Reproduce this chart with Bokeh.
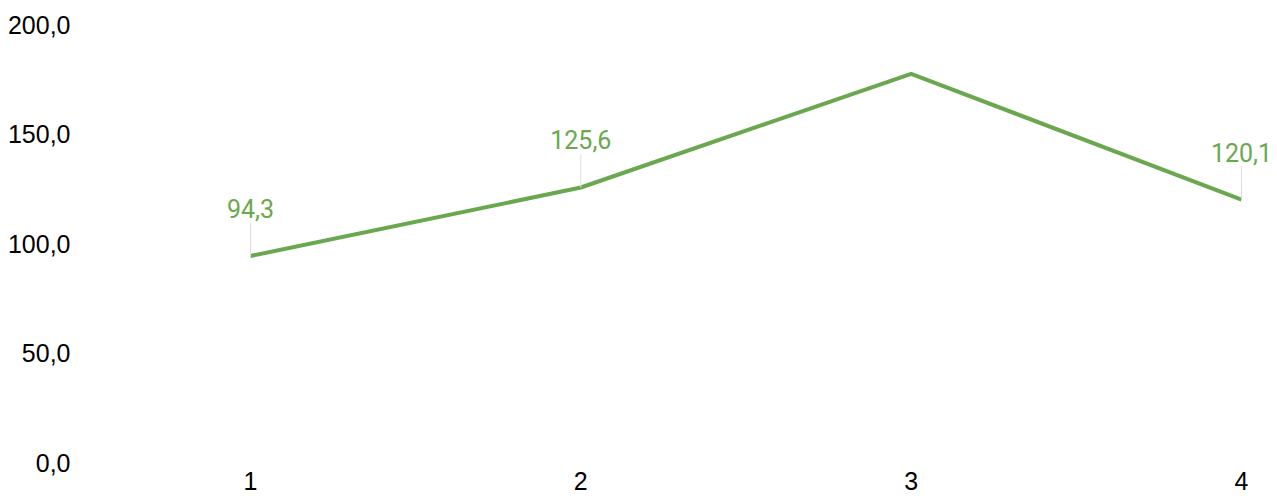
from bokeh.plotting import figure
from bokeh.models import ColumnDataSource, FixedTicker, LabelSet, Range1d
from bokeh.core.properties import value
from bokeh.embed import file_html
from bokeh.resources import INLINE

# ---- data ----
categories = [1, 2, 3, 4]
values = [94.3, 125.6, 177.5, 120.1]
show_label = [True, True, False, True]
x_tick_labels = ["1", "2", "3", "4"]
y_ticks = [0, 50, 100, 150, 200]
y_tick_labels = ["0,0", "50,0", "100,0", "150,0", "200,0"]

LINE_COLOR = "#6aa84f"
LEADER_COLOR = "#dddddd"
PX_PER_UNIT = 2.185
LEADER_PX = 33

p = figure(width=1276, height=500, output_backend="svg", toolbar_location=None,
           x_range=Range1d(0.5096, 4.106), y_range=Range1d(0, 211.0),
           min_border_left=88, min_border_right=0, min_border_top=0, min_border_bottom=38)
p.outline_line_color = None
p.grid.visible = False

for ax in (p.xaxis, p.yaxis):
    ax.axis_line_color = None
    ax.major_tick_line_color = None
    ax.minor_tick_line_color = None
    ax.major_tick_out = 0
    ax.major_tick_in = 0
    ax.major_label_text_font = "Liberation Sans"
    ax.major_label_text_font_size = "25px"
    ax.major_label_text_color = "#000000"

p.xaxis.ticker = FixedTicker(ticks=categories)
p.xaxis.major_label_overrides = {c: t for c, t in zip(categories, x_tick_labels)}
p.xaxis.major_label_standoff = 9
p.yaxis.ticker = FixedTicker(ticks=y_ticks)
p.yaxis.major_label_overrides = {t: s for t, s in zip(y_ticks, y_tick_labels)}
p.yaxis.major_label_standoff = 18

p.line(categories, values, line_color=LINE_COLOR, line_width=4)

lx = [c for c, s in zip(categories, show_label) if s]
ly = [v for v, s in zip(values, show_label) if s]
lt = [f"{v:.1f}".replace(".", ",") for v in ly]
ly1 = [v + LEADER_PX / PX_PER_UNIT for v in ly]
src = ColumnDataSource(dict(x=lx, y=ly, y1=ly1, t=lt))

p.segment(x0="x", y0="y", x1="x", y1="y1", source=src, line_color=LEADER_COLOR, line_width=1)
labels = LabelSet(x="x", y="y", text="t", source=src, y_offset=38,
                  text_align="center", text_baseline="alphabetic",
                  text_font=value("Roboto"), text_font_size="25px", text_color=LINE_COLOR)
p.add_layout(labels)

open("out.html", "w").write(file_html(p, INLINE))
